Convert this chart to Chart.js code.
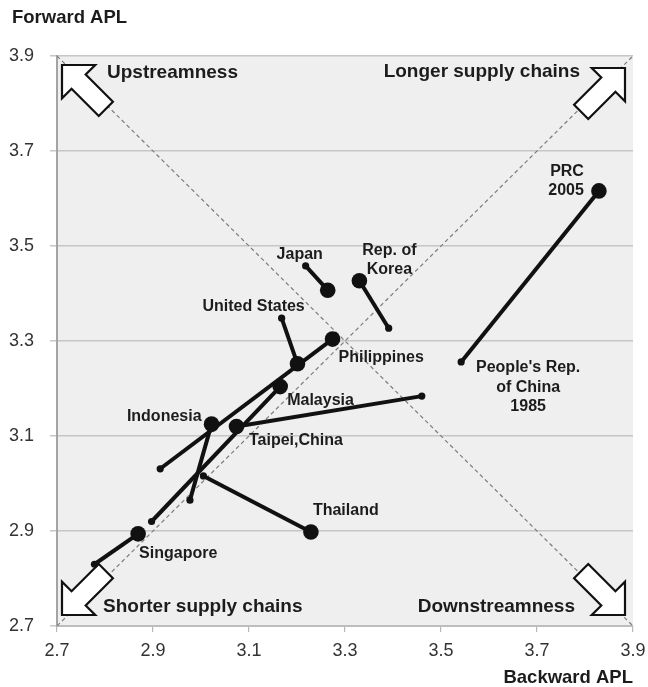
<!DOCTYPE html>
<html>
<head>
<meta charset="utf-8">
<script src="https://cdn.jsdelivr.net/npm/chart.js@4.4.1/dist/chart.umd.min.js"></script>
<style>
  html, body { margin: 0; padding: 0; background: #ffffff; }
  #wrap { width: 648px; height: 687px; }
</style>
</head>
<body>
<div id="wrap"><canvas id="apl" width="648" height="687"></canvas></div>
<script>
// Average propagation length (APL) of each economy, 1985 and 2005
const economies = ['PRC', 'Japan', 'Rep. of Korea', 'United States', 'Philippines',
                   'Malaysia', 'Indonesia', 'Taipei,China', 'Thailand', 'Singapore'];
const backward1985 = [3.542, 3.218, 3.391, 3.168, 2.915, 2.897, 2.977, 3.460, 3.005, 2.778];
const forward1985  = [3.256, 3.458, 3.327, 3.348, 3.031, 2.920, 2.965, 3.184, 3.016, 2.830];
const backward2005 = [3.829, 3.264, 3.330, 3.201, 3.274, 3.165, 3.022, 3.074, 3.229, 2.869];
const forward2005  = [3.616, 3.407, 3.427, 3.252, 3.304, 3.204, 3.125, 3.120, 2.898, 2.894];

// Axis range and ticks (both axes)
const axisMin = 2.7;
const axisMax = 3.9;
const tickValues = [2.7, 2.9, 3.1, 3.3, 3.5, 3.7, 3.9];

// Reference diagonals: equal backward/forward APL, and the opposite diagonal
const diagRising = [{ x: axisMin, y: axisMin }, { x: axisMax, y: axisMax }];
const diagFalling = [{ x: axisMin, y: axisMax }, { x: axisMax, y: axisMin }];

const INK = '#1c1c1c';
const FONT = '"Liberation Sans", Arial, Helvetica, sans-serif';

// Point labels: economy index, which year (0 = 1985, 1 = 2005), pixel offset from the point
const pointLabels = [
  { i: 0, p: 1, lines: ['PRC', '2005'], align: 'right', dx: -15, dy: -19, lh: 19 },
  { i: 0, p: 0, lines: ["People's Rep.", 'of China', '1985'], align: 'center', dx: 67, dy: 6, lh: 19.5 },
  { i: 1, p: 1, lines: ['Japan'], align: 'center', dx: -28, dy: -36 },
  { i: 2, p: 1, lines: ['Rep. of', 'Korea'], align: 'center', dx: 30, dy: -30, lh: 18.5 },
  { i: 3, p: 0, lines: ['United States'], align: 'center', dx: -28, dy: -12 },
  { i: 4, p: 1, lines: ['Philippines'], align: 'left', dx: 6, dy: 18 },
  { i: 5, p: 1, lines: ['Malaysia'], align: 'left', dx: 7, dy: 14 },
  { i: 6, p: 1, lines: ['Indonesia'], align: 'right', dx: -10, dy: -8 },
  { i: 7, p: 1, lines: ['Taipei,China'], align: 'left', dx: 12.5, dy: 14 },
  { i: 8, p: 1, lines: ['Thailand'], align: 'left', dx: 2, dy: -21 },
  { i: 9, p: 1, lines: ['Singapore'], align: 'left', dx: 1, dy: 20 }
];

// One line per economy, from its 1985 position to its 2005 position
const economyDatasets = economies.map((name, k) => ({
  label: name,
  data: [
    { x: backward1985[k], y: forward1985[k] },
    { x: backward2005[k], y: forward2005[k] }
  ],
  showLine: true,
  borderColor: '#111111',
  backgroundColor: '#111111',
  borderWidth: 4,
  pointRadius: [3.6, 7.8],
  pointBorderWidth: 0,
  pointHoverRadius: [3.6, 7.8],
  order: 0
}));

const diagonalDatasets = [diagRising, diagFalling].map((pts, k) => ({
  label: k === 0 ? 'diagonal-rising' : 'diagonal-falling',
  data: pts,
  showLine: true,
  borderColor: '#7c7c7c',
  borderWidth: 1.2,
  borderDash: [4, 3],
  pointRadius: 0,
  order: 10
}));

// Light gray plotting field
const plotBackground = {
  id: 'plotBackground',
  beforeDraw(chart) {
    const { ctx, chartArea: a } = chart;
    ctx.save();
    ctx.fillStyle = '#efefef';
    ctx.fillRect(a.left, a.top, a.right - a.left, a.bottom - a.top);
    ctx.restore();
  }
};

// Block arrows in the four corners, pointing outward along the diagonals
function blockArrow(ctx, tipX, tipY, dirX, dirY) {
  // dir points from the tip back towards the tail
  const len = Math.hypot(dirX, dirY);
  const ux = dirX / len, uy = dirY / len;
  const vx = -uy, vy = ux;
  const headLen = 23.5, headHalf = 23.5, shaftHalf = 10, total = 62;
  const P = (a, b) => [tipX + ux * a + vx * b, tipY + uy * a + vy * b];
  const pts = [P(0, 0), P(headLen, headHalf), P(headLen, shaftHalf), P(total, shaftHalf),
               P(total, -shaftHalf), P(headLen, -shaftHalf), P(headLen, -headHalf)];
  ctx.beginPath();
  ctx.moveTo(pts[0][0], pts[0][1]);
  for (let n = 1; n < pts.length; n++) ctx.lineTo(pts[n][0], pts[n][1]);
  ctx.closePath();
  ctx.fillStyle = '#ffffff';
  ctx.fill();
  ctx.lineWidth = 2.2;
  ctx.lineJoin = 'miter';
  ctx.strokeStyle = '#111111';
  ctx.stroke();
}

let arrowsDrawn = false;
const cornerArrows = {
  id: 'cornerArrows',
  beforeDatasetsDraw() { arrowsDrawn = false; },
  beforeDatasetDraw(chart, args) {
    if (arrowsDrawn) return;
    const ds = chart.data.datasets[args.index];
    if (ds.order !== 0) return;
    arrowsDrawn = true;
    const { ctx, chartArea: a } = chart;
    ctx.save();
    blockArrow(ctx, a.left + 5, a.top + 9, 1, 1);
    blockArrow(ctx, a.right - 8, a.top + 12, -1, 1);
    blockArrow(ctx, a.left + 5, a.bottom - 11, 1, -1);
    blockArrow(ctx, a.right - 8, a.bottom - 11, -1, -1);
    ctx.restore();
  }
};

// Corner captions, economy names and axis titles
const textLayer = {
  id: 'textLayer',
  afterDatasetsDraw(chart) {
    const { ctx, chartArea: a, scales } = chart;
    ctx.save();
    ctx.fillStyle = INK;
    ctx.textBaseline = 'middle';

    ctx.font = 'bold 19px ' + FONT;
    ctx.textAlign = 'left';
    ctx.fillText('Upstreamness', a.left + 50, a.top + 17);
    ctx.fillText('Shorter supply chains', a.left + 46, a.bottom - 19);
    ctx.textAlign = 'right';
    ctx.fillText('Longer supply chains', a.right - 53, a.top + 16);
    ctx.fillText('Downstreamness', a.right - 58, a.bottom - 19);

    ctx.font = 'bold 16px ' + FONT;
    pointLabels.forEach(lb => {
      const bx = lb.p === 0 ? backward1985[lb.i] : backward2005[lb.i];
      const fy = lb.p === 0 ? forward1985[lb.i] : forward2005[lb.i];
      const px = scales.x.getPixelForValue(bx);
      const py = scales.y.getPixelForValue(fy);
      ctx.textAlign = lb.align;
      lb.lines.forEach((t, n) => {
        ctx.fillText(t, px + lb.dx, py + lb.dy + n * (lb.lh || 19));
      });
    });

    ctx.font = 'bold 18.5px ' + FONT;
    ctx.textAlign = 'left';
    ctx.fillText('Forward APL', 12, 18);
    ctx.textAlign = 'right';
    ctx.fillText('Backward APL', a.right, 678);
    ctx.restore();
  }
};

const tickFont = { family: FONT, size: 18 };

new Chart(document.getElementById('apl'), {
  type: 'scatter',
  data: { datasets: [...economyDatasets, ...diagonalDatasets] },
  options: {
    responsive: false,
    devicePixelRatio: 1,
    animation: false,
    layout: { padding: { top: 56, right: 15, bottom: 0, left: 0 } },
    plugins: { legend: { display: false }, tooltip: { enabled: false } },
    scales: {
      x: {
        type: 'linear',
        min: axisMin,
        max: axisMax,
        afterFit(scale) { scale.height = 61; scale.paddingRight = 0; scale.paddingLeft = 0; },
        afterBuildTicks(scale) { scale.ticks = tickValues.map(v => ({ value: v })); },
        ticks: {
          font: tickFont,
          color: '#333333',
          padding: 8,
          maxRotation: 0,
          callback: v => Number(v).toFixed(1)
        },
        grid: { drawOnChartArea: false, drawTicks: true, tickLength: 6, color: '#b8b8b8', lineWidth: 1.2 },
        border: { color: '#bdbdbd', width: 2 }
      },
      y: {
        type: 'linear',
        min: axisMin,
        max: axisMax,
        afterFit(scale) { scale.width = 57; scale.paddingTop = 0; scale.paddingBottom = 0; },
        afterBuildTicks(scale) { scale.ticks = tickValues.map(v => ({ value: v })); },
        ticks: {
          font: tickFont,
          color: '#333333',
          padding: 16,
          callback: v => Number(v).toFixed(1)
        },
        grid: { drawOnChartArea: true, drawTicks: true, tickLength: 7, color: '#c6c6c6', lineWidth: 1.5 },
        border: { color: '#a4a4a4', width: 2 }
      }
    }
  },
  plugins: [plotBackground, cornerArrows, textLayer]
});
</script>
</body>
</html>
